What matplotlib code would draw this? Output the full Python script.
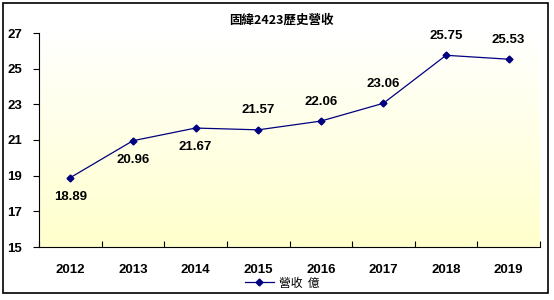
import matplotlib
matplotlib.use("Agg")
import matplotlib.pyplot as plt
import numpy as np
from matplotlib.lines import Line2D
from matplotlib.patches import Rectangle

years = ["2012", "2013", "2014", "2015", "2016", "2017", "2018", "2019"]
revenue = [18.89, 20.96, 21.67, 21.57, 22.06, 23.06, 25.75, 25.53]
label_pos = ["below", "below", "below", "above", "above", "above", "above", "above"]
yticks = [15, 17, 19, 21, 23, 25, 27]
title = "固緯2423歷史營收"
legend_label = "營收  億"

W, H = 554, 300
fig = plt.figure(figsize=(W / 100, H / 100), dpi=100)
fig.patch.set_facecolor("white")

# outer border
fig.add_artist(Rectangle((3 / W, 1 - 293 / H), 545 / W, 290 / H, transform=fig.transFigure,
                         fill=False, edgecolor="black", linewidth=1.2))

left, right, top, bottom = 39, 540, 33, 247
ax = fig.add_axes([left / W, 1 - bottom / H, (right - left) / W, (bottom - top) / H])
x = np.arange(len(years))
ax.set_xlim(-0.5, len(years) - 0.5)
ax.set_ylim(15, 27)

# gradient background (light yellow bottom -> white top)
grad = np.linspace(0, 1, 256).reshape(-1, 1)
c_bot = np.array([255, 255, 204]) / 255
c_top = np.array([255, 255, 255]) / 255
img = c_bot[None, None, :] * (1 - grad[:, :, None]) + c_top[None, None, :] * grad[:, :, None]
ax.imshow(img, extent=[-0.5, len(years) - 0.5, 15, 27], origin="lower", aspect="auto", zorder=0)

ax.plot(x, revenue, color="#000080", linewidth=0.9, marker="D", markersize=3.5,
        markerfacecolor="#000080", markeredgecolor="#000080", zorder=3)

for xi, v, pos in zip(x, revenue, label_pos):
    dy = -14 if pos == "below" else 14
    ax.annotate(f"{v:.2f}", (xi, v), xytext=(0, dy), textcoords="offset points",
                ha="center", va="center", fontsize=9.5, fontweight="bold",
                family="Liberation Sans", color="black", zorder=4)

for s in ["top", "right"]:
    ax.spines[s].set_visible(False)
ax.spines["left"].set_linewidth(0.8)
ax.spines["bottom"].set_linewidth(0.8)

ax.set_yticks(yticks)
ax.set_yticklabels([str(t) for t in yticks], fontsize=9.5, fontweight="bold", family="Liberation Sans")
ax.tick_params(axis="y", direction="out", length=4, width=0.8, pad=8)

ax.set_xticks(x)
ax.set_xticklabels(years, fontsize=9.5, fontweight="bold", family="Liberation Sans")
ax.set_xticks(np.arange(-0.5, len(years), 1), minor=True)
ax.tick_params(axis="x", which="major", length=0, pad=12)
ax.tick_params(axis="x", which="minor", direction="in", length=4, width=0.8)

fig.text(281 / W, 1 - 20 / H, title, ha="center", va="center", fontsize=9,
         fontweight="bold", family=["Noto Sans CJK TC", "DejaVu Sans"])

handle = Line2D([0], [0], color="#000080", linewidth=0.9, marker="D", markersize=3.5,
                markerfacecolor="#000080")
fig.legend([handle], [legend_label], loc="center", bbox_to_anchor=(282 / W, 1 - 283 / H),
           frameon=False, prop={"family": ["Noto Sans CJK TC", "DejaVu Sans"], "size": 8.5},
           handlelength=2.5, handletextpad=0.4)

fig.savefig("out.png", dpi=100)
